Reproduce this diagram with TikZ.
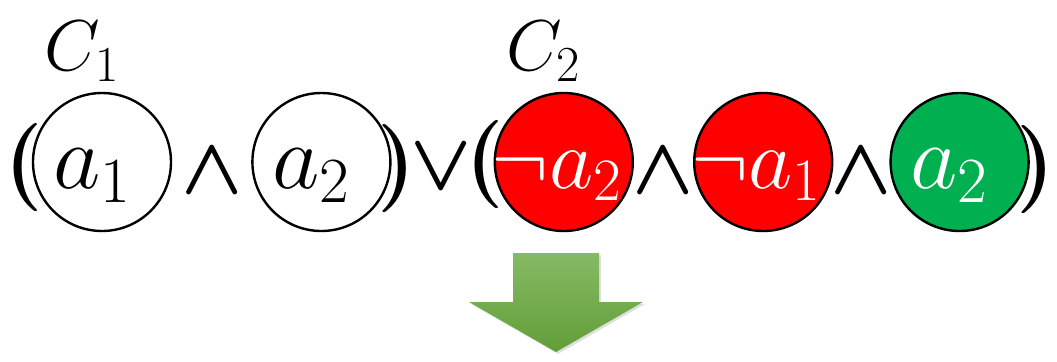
\RequirePackage{fix-cm}
\documentclass[tikz,border=0pt]{standalone}
\usepackage{tikz}
\usetikzlibrary{positioning,shadows}

\definecolor{litred}{HTML}{FF0000}
\definecolor{litgreen}{HTML}{00B050}
\definecolor{arrowtop}{RGB}{134,186,100}
\definecolor{arrowbot}{RGB}{98,158,56}

\begin{document}
\begin{tikzpicture}[
        x=0.5pt, y=-0.5pt,
        lit/.style    = {circle, draw, line width=1.2pt, minimum size=69pt, inner sep=0pt},
        neglit/.style = {lit, fill=litred},
        poslit/.style = {lit, fill=litgreen},
        txt/.style    = {font=\fontsize{46}{50}\selectfont, xshift=-5pt, yshift=-7pt},
        wtxt/.style   = {txt, text=white},
        ntxt/.style   = {wtxt, font=\fontsize{43}{47}\selectfont, xshift=1.5pt},
        conn/.style   = {font=\fontsize{40}{44}\selectfont\boldmath, inner sep=0pt},
        wedge/.style  = {conn, yshift=-4.5pt},
        par/.style    = {font=\fontsize{44}{48}\selectfont\bfseries, inner sep=0pt},
        cls/.style    = {font=\fontsize{36}{40}\selectfont, inner sep=0pt},
        arrowfill/.style = {top color=arrowtop, bottom color=arrowbot,
            drop shadow={shadow xshift=1pt, shadow yshift=-1pt, opacity=0.25}},
        node distance = 39.5pt
    ]
        \useasboundingbox (0,0) rectangle (1057,361);

        % first clause
        \node[lit, label={[txt]center:$a_1$}]                   (c1) at (102,162) {};
        \node[lit, right=of c1, label={[txt]center:$a_2$}]      (c2) {};
        % second clause
        \node[neglit, right=51pt of c2, label={[ntxt]center:$\neg a_2$}]   (r1) {};
        \node[neglit, right=29.5pt of r1, label={[ntxt]center:$\neg a_1$}] (r2) {};
        \node[poslit, right=28pt of r2, label={[wtxt]center:$a_2$}]        (g1) {};

        \node[cls, above=5pt of c1, xshift=-10pt] (C1) {$C_1$};
        \node[cls, above=5pt of r1, xshift=-10pt] (C2) {$C_2$};

        \node[par] (p1l) at (24,168)   {(};
        \node[par] (p1r) at (397,169)  {)};
        \node[par] (p2l) at (485,165)  {(};
        \node[par] (p2r) at (1036,170) {)};

        \path (c1)  -- node[wedge]{$\wedge$} (c2);
        \path (r1)  -- node[wedge]{$\wedge$} (r2);
        \path (r2)  -- node[wedge]{$\wedge$} (g1);
        \path (p1r) -- node[conn]{$\vee$}    (p2l);

        % down arrow
        \path[arrowfill] (513,253) -- (599,253) -- (599,302) -- (643,302)
            -- (556,352) -- (469,302) -- (513,302) -- cycle;
    \end{tikzpicture}
\end{document}
